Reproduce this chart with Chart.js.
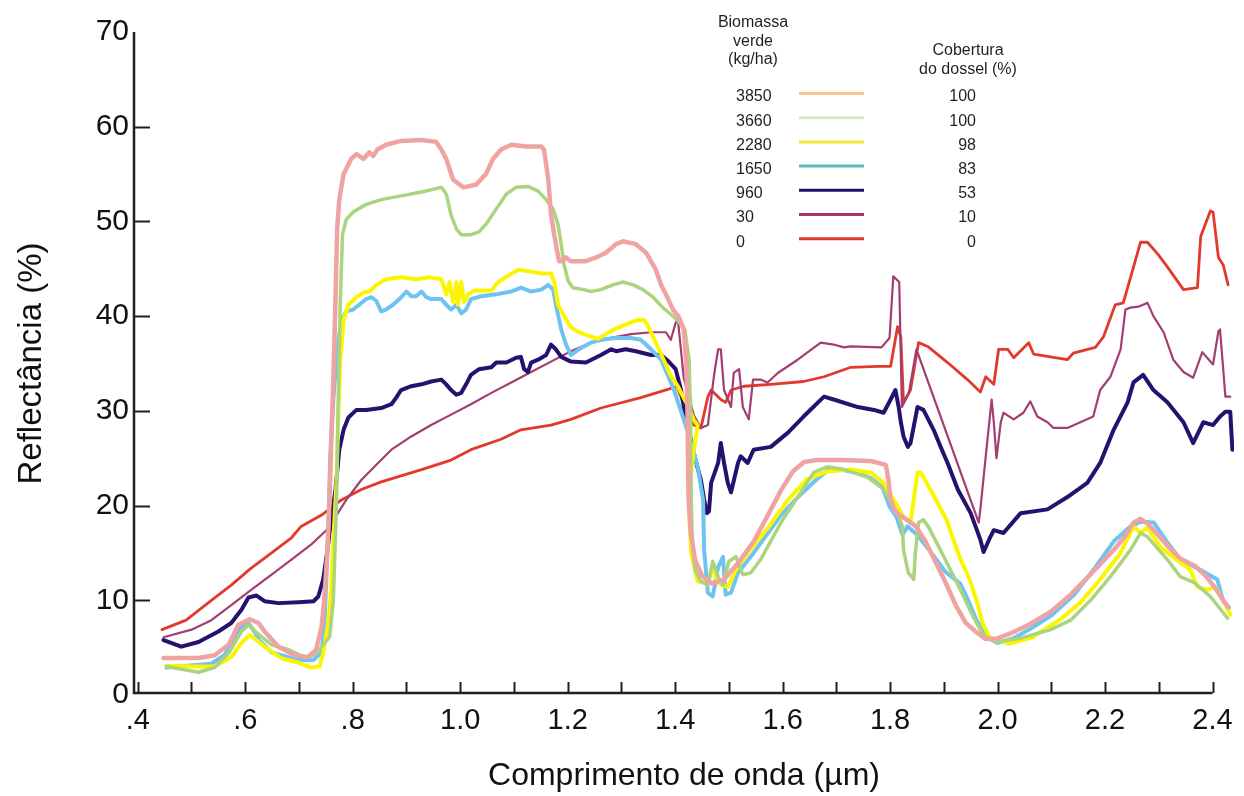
<!DOCTYPE html>
<html><head><meta charset="utf-8">
<script src="https://cdn.jsdelivr.net/npm/chart.js@4/dist/chart.umd.min.js"></script>
<style>html,body{margin:0;padding:0;background:#fff}#wrap{width:1244px;height:796px}</style>
</head><body><div id="wrap"><canvas id="c" width="1244" height="796"></canvas></div>
<script>
// ---- data (wavelength µm, reflectance %) ----
const biomassLabels = ['3850','3660','2280','1650','960','30','0'];
const coverLabels   = ['100','100','98','83','53','10','0'];
const xTickValues = [0.4,0.6,0.8,1.0,1.2,1.4,1.6,1.8,2.0,2.2,2.4];
const xTickLabels = ['.4','.6','.8','1.0','1.2','1.4','1.6','1.8','2.0','2.2','2.4'];
const xMinorTicks = [0.4,0.5,0.6,0.7,0.8,0.9,1.0,1.1,1.2,1.3,1.4,1.5,1.6,1.7,1.8,1.9,2.0,2.1,2.2,2.3,2.4];
const yTickValues = [0,10,20,30,40,50,60,70];
const yTickLabels = ['0','10','20','30','40','50','60','70'];

const s3850 = [[0.448,3.9],[0.513,3.9],[0.543,4.2],[0.569,5.3],[0.587,7.4],[0.608,8.0],[0.625,7.6],[0.636,6.7],[0.662,5.1],[0.691,4.2],[0.717,4.0],[0.732,4.8],[0.742,7.2],[0.747,10],[0.753,15.3],[0.757,20.6],[0.76,27],[0.764,33.3],[0.768,41.8],[0.771,49.2],[0.775,52.3],[0.783,55],[0.797,56.6],[0.807,57.1],[0.82,56.6],[0.831,57.3],[0.838,56.9],[0.846,57.6],[0.862,58.1],[0.89,58.5],[0.928,58.6],[0.955,58.4],[0.965,57.6],[0.974,56.6],[0.987,54.4],[1.006,53.6],[1.03,53.9],[1.048,55],[1.061,56.6],[1.076,57.6],[1.095,58.1],[1.123,57.9],[1.151,57.9],[1.156,57.6],[1.164,54.4],[1.169,50.7],[1.175,48.6],[1.18,47.0],[1.184,45.8],[1.19,45.8],[1.197,46.2],[1.206,45.8],[1.234,45.8],[1.253,46.2],[1.271,46.7],[1.29,47.6],[1.303,47.9],[1.327,47.6],[1.346,46.7],[1.364,44.9],[1.374,43.3],[1.387,41.8],[1.396,40.7],[1.407,39.9],[1.416,38.6],[1.421,35],[1.423,30],[1.424,25],[1.425,20.6],[1.429,17.2],[1.437,14.3],[1.45,12.6],[1.467,11.8],[1.489,12.1],[1.517,13.9],[1.546,16.2],[1.57,18.7],[1.597,21.6],[1.619,23.6],[1.64,24.6],[1.662,24.8],[1.708,24.8],[1.764,24.7],[1.792,24.3],[1.797,22.7],[1.801,20.6],[1.81,19.3],[1.829,18.6],[1.848,17.8],[1.866,16.2],[1.885,14.0],[1.903,11.9],[1.922,9.5],[1.941,7.6],[1.959,6.7],[1.978,5.9],[1.996,5.9],[2.024,6.5],[2.061,7.5],[2.099,8.8],[2.136,10.6],[2.164,12.2],[2.191,13.8],[2.219,15.5],[2.238,16.8],[2.253,18.2],[2.266,18.6],[2.281,18.0],[2.303,16.6],[2.322,15.4],[2.34,14.4],[2.368,13.6],[2.387,12.6],[2.405,11.3],[2.42,10.0],[2.429,9.3]];

const s3660 = [[0.4535,3.0],[0.513,2.4],[0.543,2.9],[0.569,4.4],[0.593,6.7],[0.606,7.4],[0.621,6.6],[0.649,5.3],[0.68,4.8],[0.71,4.0],[0.729,4.2],[0.742,5.1],[0.757,6.1],[0.764,10],[0.77,20.6],[0.773,31.2],[0.777,41.8],[0.781,48.6],[0.788,50.2],[0.801,51],[0.825,51.8],[0.853,52.3],[0.89,52.7],[0.928,53.1],[0.965,53.6],[0.974,52.9],[0.983,50.7],[0.993,49.2],[1.002,48.6],[1.02,48.6],[1.035,48.9],[1.048,49.7],[1.067,51.3],[1.086,52.9],[1.104,53.6],[1.126,53.7],[1.145,53.2],[1.16,52.3],[1.173,51.3],[1.182,49.7],[1.188,47.6],[1.193,45.5],[1.201,43.7],[1.21,43.0],[1.23,42.8],[1.243,42.6],[1.262,42.8],[1.284,43.3],[1.303,43.6],[1.322,43.3],[1.34,42.8],[1.359,42.0],[1.377,40.9],[1.392,40.2],[1.407,39.4],[1.418,38.6],[1.426,35.4],[1.428,31.2],[1.429,25.9],[1.43,20.6],[1.432,16.4],[1.437,13.2],[1.448,12.0],[1.461,11.6],[1.47,14.1],[1.48,12.5],[1.489,11.6],[1.5,14.1],[1.513,14.6],[1.526,12.7],[1.541,12.9],[1.559,14.3],[1.597,18.2],[1.634,21.4],[1.658,23.5],[1.684,24.1],[1.714,23.8],[1.758,23.0],[1.788,21.7],[1.814,19.2],[1.823,17.8],[1.825,15.3],[1.834,12.9],[1.844,12.2],[1.847,15.0],[1.853,18.2],[1.862,18.5],[1.871,17.8],[1.9,14.6],[1.931,11.1],[1.955,8.2],[1.974,6.3],[1.998,5.6],[2.043,6.0],[2.099,6.9],[2.136,7.9],[2.173,10.0],[2.21,12.5],[2.247,15.3],[2.266,17.1],[2.279,16.7],[2.316,14.3],[2.34,12.5],[2.365,11.9],[2.396,10.4],[2.428,8.1]];

const s2280 = [[0.4535,3.1],[0.513,3.0],[0.543,3.0],[0.574,4.0],[0.593,5.5],[0.608,6.3],[0.617,6.0],[0.636,5.1],[0.667,3.9],[0.699,3.4],[0.723,2.9],[0.738,3.0],[0.745,4.4],[0.755,7.9],[0.76,11.1],[0.764,16.4],[0.77,22.7],[0.773,29.1],[0.777,35.4],[0.783,39.6],[0.792,41.2],[0.807,42.0],[0.82,42.5],[0.831,42.6],[0.844,43.3],[0.862,43.9],[0.89,44.1],[0.918,43.9],[0.942,44.1],[0.965,43.9],[0.974,42.3],[0.98,43.6],[0.987,41.5],[0.993,43.6],[0.996,41.2],[1.002,43.6],[1.007,41.5],[1.015,42.3],[1.026,42.7],[1.058,42.7],[1.071,43.6],[1.09,44.3],[1.108,44.9],[1.132,44.7],[1.151,44.5],[1.169,44.5],[1.175,43.6],[1.182,41.2],[1.193,40.1],[1.206,38.8],[1.225,38.2],[1.256,37.6],[1.268,38.0],[1.286,38.6],[1.312,39.2],[1.331,39.6],[1.342,39.6],[1.351,38.8],[1.364,37.2],[1.377,35.6],[1.392,33.7],[1.405,32.6],[1.424,30.5],[1.435,29.0],[1.442,28.5],[1.435,26.0],[1.427,22.0],[1.427,18.0],[1.43,14.9],[1.442,12.0],[1.461,11.8],[1.47,13.5],[1.48,11.8],[1.498,11.4],[1.513,13.2],[1.535,15.0],[1.572,17.6],[1.61,20.6],[1.645,22.8],[1.684,23.6],[1.727,23.8],[1.764,23.5],[1.788,22.4],[1.814,19.9],[1.825,18.8],[1.838,18.2],[1.851,23.5],[1.857,23.5],[1.875,21.7],[1.905,18.5],[1.929,14.6],[1.948,12.2],[1.961,10.0],[1.972,7.6],[1.985,6.1],[2.022,5.4],[2.065,6.1],[2.115,7.9],[2.153,9.7],[2.191,12.2],[2.229,15.0],[2.253,17.8],[2.266,17.1],[2.279,17.7],[2.303,15.6],[2.34,14.0],[2.359,13.2],[2.372,11.4],[2.39,11.1],[2.405,11.4],[2.42,10.0],[2.433,8.5]];

const s1650 = [[0.4535,2.9],[0.537,3.3],[0.561,4.2],[0.58,5.8],[0.593,7.2],[0.606,7.6],[0.617,6.7],[0.626,5.8],[0.649,4.5],[0.68,4.0],[0.704,3.7],[0.727,3.7],[0.742,4.5],[0.747,7.2],[0.751,12.2],[0.755,18.5],[0.758,24.8],[0.764,31.2],[0.771,36.5],[0.779,39.6],[0.788,40.5],[0.801,40.7],[0.812,41.2],[0.825,41.8],[0.835,42.0],[0.844,41.6],[0.853,40.5],[0.862,40.7],[0.875,41.2],[0.887,41.8],[0.9,42.6],[0.909,42.1],[0.918,42.1],[0.928,42.6],[0.937,42.0],[0.946,41.8],[0.965,41.8],[0.974,41.2],[0.983,40.7],[0.993,41.2],[1.002,40.3],[1.011,40.7],[1.02,41.8],[1.039,42.1],[1.067,42.3],[1.095,42.6],[1.113,43.0],[1.132,42.6],[1.151,42.8],[1.164,43.3],[1.173,42.8],[1.18,40.7],[1.188,38.6],[1.197,37.0],[1.206,35.9],[1.221,36.5],[1.243,37.2],[1.262,37.5],[1.29,37.7],[1.318,37.7],[1.336,37.5],[1.355,36.5],[1.374,35.4],[1.398,32.2],[1.424,27.7],[1.442,24.1],[1.452,20.6],[1.454,15.3],[1.461,10.8],[1.47,10.4],[1.48,13.5],[1.489,14.6],[1.494,10.6],[1.504,10.8],[1.517,12.9],[1.546,15.0],[1.597,19.0],[1.634,21.2],[1.662,22.7],[1.686,23.8],[1.708,23.8],[1.736,23.5],[1.764,22.9],[1.786,21.9],[1.799,19.9],[1.812,18.8],[1.823,16.9],[1.832,17.8],[1.851,16.9],[1.877,15.0],[1.903,13.0],[1.93,11.8],[1.942,10.4],[1.961,7.9],[1.98,6.1],[2.0,5.5],[2.03,6.0],[2.061,7.0],[2.1,8.4],[2.143,10.6],[2.182,13.5],[2.216,16.2],[2.247,17.8],[2.266,18.3],[2.291,18.2],[2.316,16.1],[2.34,14.3],[2.378,13.2],[2.409,12.2],[2.42,9.9],[2.431,9.2]];

const s960 = [[0.448,5.8],[0.481,5.1],[0.513,5.6],[0.55,6.7],[0.574,7.6],[0.593,9.0],[0.606,10.3],[0.621,10.5],[0.636,9.9],[0.662,9.7],[0.699,9.8],[0.727,9.9],[0.736,10.4],[0.745,12.2],[0.753,15.3],[0.76,18.5],[0.768,21.7],[0.775,25.9],[0.783,28.0],[0.792,29.3],[0.807,30.1],[0.825,30.1],[0.853,30.3],[0.872,30.7],[0.881,31.4],[0.89,32.2],[0.909,32.6],[0.928,32.8],[0.946,33.1],[0.965,33.3],[0.974,32.8],[0.983,32.2],[0.993,31.7],[1.002,31.9],[1.011,32.8],[1.02,33.8],[1.035,34.4],[1.058,34.6],[1.067,35.1],[1.086,35.1],[1.104,35.6],[1.113,35.7],[1.119,34.4],[1.126,34.1],[1.132,35.1],[1.145,35.4],[1.16,35.9],[1.169,37.0],[1.178,36.5],[1.188,35.7],[1.206,35.2],[1.234,35.1],[1.262,35.9],[1.281,36.5],[1.29,36.3],[1.308,36.5],[1.327,36.3],[1.355,35.9],[1.374,35.9],[1.388,35.2],[1.401,34.4],[1.411,32.2],[1.42,29.1],[1.429,27.0],[1.438,24.8],[1.448,22.7],[1.454,20.6],[1.459,19.2],[1.463,19.4],[1.467,22.4],[1.48,24.5],[1.485,26.6],[1.491,24.5],[1.498,22.4],[1.504,21.4],[1.517,24.5],[1.522,25.2],[1.535,24.5],[1.546,25.9],[1.578,26.2],[1.61,27.7],[1.639,29.4],[1.677,31.5],[1.695,31.2],[1.74,30.4],[1.77,30.1],[1.788,29.8],[1.801,31.2],[1.81,32.2],[1.816,30.4],[1.82,28.8],[1.825,27.3],[1.833,26.2],[1.838,26.6],[1.851,30.4],[1.862,30.1],[1.881,28.0],[1.894,26.2],[1.907,24.5],[1.926,21.7],[1.95,19.2],[1.968,16.4],[1.974,15.1],[1.985,16.5],[1.993,17.4],[2.011,17.1],[2.043,19.2],[2.093,19.6],[2.13,20.9],[2.167,22.4],[2.191,24.5],[2.216,28.0],[2.242,30.9],[2.253,33.0],[2.271,33.8],[2.29,32.2],[2.316,30.9],[2.346,28.8],[2.364,26.6],[2.383,28.8],[2.401,28.5],[2.414,29.4],[2.424,29.9],[2.433,29.9],[2.437,25.9]];

const s30 = [[0.448,6.1],[0.5,6.9],[0.537,7.9],[0.574,9.5],[0.611,11.1],[0.649,12.7],[0.686,14.3],[0.723,15.9],[0.751,17.4],[0.77,19.0],[0.788,20.6],[0.816,22.7],[0.844,24.3],[0.872,25.9],[0.909,27.3],[0.946,28.5],[0.983,29.6],[1.02,30.7],[1.058,31.9],[1.095,33.0],[1.132,34.1],[1.169,35.2],[1.206,36.3],[1.243,37.2],[1.281,37.7],[1.318,38.1],[1.355,38.3],[1.383,38.3],[1.392,37.5],[1.4,39.1],[1.405,39.9],[1.407,38.6],[1.416,33.5],[1.435,29.5],[1.448,28.2],[1.461,28.5],[1.472,33.6],[1.48,36.5],[1.485,36.5],[1.491,32.2],[1.504,30.4],[1.509,34.0],[1.519,34.4],[1.526,30.4],[1.537,29.1],[1.545,33.3],[1.559,33.3],[1.572,33.0],[1.591,34.0],[1.628,35.4],[1.671,37.2],[1.695,37.0],[1.714,36.7],[1.727,36.8],[1.784,36.7],[1.799,37.7],[1.806,44.2],[1.817,43.6],[1.822,30.4],[1.835,31.9],[1.849,36.5],[1.965,18.2],[1.968,19.6],[1.978,25.2],[1.989,31.2],[1.993,28.8],[1.998,25.0],[2.006,28.8],[2.011,29.8],[2.03,29.1],[2.048,29.8],[2.061,31.0],[2.074,29.4],[2.093,28.8],[2.104,28.2],[2.13,28.2],[2.154,28.8],[2.178,29.4],[2.191,32.2],[2.21,33.6],[2.229,36.5],[2.238,40.7],[2.247,40.9],[2.262,41.0],[2.279,41.4],[2.29,40.0],[2.309,38.3],[2.327,35.4],[2.346,34.1],[2.364,33.5],[2.381,36.2],[2.39,35.6],[2.401,34.9],[2.411,38.4],[2.414,38.6],[2.424,31.5],[2.433,31.5]];

const s0 = [[0.445,6.9],[0.49,7.9],[0.537,10.0],[0.574,11.6],[0.611,13.4],[0.649,15.0],[0.686,16.6],[0.704,17.8],[0.742,19.0],[0.779,20.6],[0.816,21.7],[0.853,22.5],[0.928,23.8],[0.983,24.8],[1.02,25.9],[1.076,27.0],[1.113,28.0],[1.169,28.5],[1.206,29.1],[1.262,30.3],[1.336,31.4],[1.388,32.3],[1.403,32.6],[1.418,30.4],[1.435,28.5],[1.448,28.2],[1.461,31.5],[1.467,32.2],[1.485,31.2],[1.494,30.9],[1.504,32.2],[1.528,32.6],[1.578,32.8],[1.639,33.1],[1.677,33.6],[1.727,34.6],[1.777,34.7],[1.801,34.7],[1.814,38.9],[1.82,37.8],[1.825,30.9],[1.838,32.2],[1.853,37.2],[1.87,36.8],[1.907,35.1],[1.944,33.3],[1.968,32.0],[1.978,33.6],[1.993,32.8],[2.002,36.5],[2.019,36.5],[2.03,35.6],[2.058,37.2],[2.067,36.0],[2.13,35.4],[2.141,36.1],[2.182,36.7],[2.197,37.8],[2.219,41.2],[2.234,41.4],[2.266,47.8],[2.279,47.8],[2.299,46.5],[2.316,45.2],[2.346,42.8],[2.372,43.0],[2.378,48.4],[2.396,51.1],[2.401,51.0],[2.411,46.2],[2.42,45.4],[2.429,43.3]];

// ---- styles ----
const allSeries   = [s3850, s3660, s2280, s1650, s960, s30, s0];
const lineColors  = ['#f0a3a3','#abd47f','#fbf500','#6ec3f0','#26126e','#a33d72','#e3392d'];
const lineWidths  = [4.5, 3.5, 4, 4, 4, 2.2, 2.8];
const legendColors= ['#f5c48e','#d3eac3','#efe93a','#5cbcbb','#22106c','#a0386c','#e0392e'];

const FONT = '"Liberation Sans", Arial, Helvetica, sans-serif';
const INK = '#231f20';

const datasets = allSeries.map((s, i) => ({
  label: biomassLabels[i],
  data: s.map(p => ({x: p[0], y: p[1]})),
  borderColor: lineColors[i],
  borderWidth: lineWidths[i],
  pointRadius: 0,
  tension: 0,
  fill: false,
  borderJoinStyle: 'round',
  borderCapStyle: 'round'
}));

const axesPlugin = {
  id: 'axesPlugin',
  afterDraw(chart) {
    const ctx = chart.ctx, xs = chart.scales.x, ys = chart.scales.y;
    const x0 = xs.getPixelForValue(xs.min);
    const xEnd = xs.getPixelForValue(2.4);
    const yBase = ys.getPixelForValue(0) - 2;
    const yTop = ys.getPixelForValue(70);
    ctx.save();
    ctx.strokeStyle = INK;
    ctx.lineWidth = 2.5;
    ctx.beginPath();
    ctx.moveTo(x0, yTop); ctx.lineTo(x0, yBase);
    ctx.lineTo(xEnd, yBase);
    ctx.stroke();
    ctx.lineWidth = 2;
    ctx.beginPath();
    xMinorTicks.forEach(v => {
      const px = Math.round(xs.getPixelForValue(v)) + 0.5;
      ctx.moveTo(px, yBase); ctx.lineTo(px, yBase - 11);
    });
    yTickValues.forEach(v => {
      if (v === 0 || v === 70) return;
      const py = Math.round(ys.getPixelForValue(v)) + 0.5;
      ctx.moveTo(x0, py); ctx.lineTo(x0 + 16, py);
    });
    ctx.stroke();
    ctx.restore();
  }
};

const legendPlugin = {
  id: 'legendPlugin',
  afterDraw(chart) {
    const ctx = chart.ctx;
    ctx.save();
    ctx.fillStyle = INK;
    ctx.font = '16px ' + FONT;
    ctx.textBaseline = 'middle';
    ctx.textAlign = 'center';
    ['Biomassa','verde','(kg/ha)'].forEach((t, i) => ctx.fillText(t, 753, 23 + i * 18.5));
    ['Cobertura','do dossel (%)'].forEach((t, i) => ctx.fillText(t, 968, 51 + i * 18.5));
    biomassLabels.forEach((lab, i) => {
      const y = 97 + i * 24.2;
      ctx.textAlign = 'left';
      ctx.fillStyle = INK;
      ctx.fillText(lab, 736, y);
      ctx.textAlign = 'right';
      ctx.fillText(coverLabels[i], 976, y);
      ctx.strokeStyle = legendColors[i];
      ctx.lineWidth = 3;
      ctx.beginPath();
      ctx.moveTo(799, y - 3.5); ctx.lineTo(864, y - 3.5);
      ctx.stroke();
    });
    ctx.restore();
  }
};

new Chart(document.getElementById('c'), {
  type: 'line',
  data: { datasets },
  options: {
    responsive: false,
    devicePixelRatio: 1,
    animation: false,
    layout: { padding: { left: 0, right: 10, top: 32, bottom: 0 } },
    plugins: { legend: { display: false }, tooltip: { enabled: false } },
    scales: {
      x: {
        type: 'linear', min: 0.393, max: 2.44,
        afterBuildTicks: s => { s.ticks = xTickValues.map(v => ({ value: v })); },
        afterFit: s => { s.height = 101; },
        ticks: { callback: (v, i) => xTickLabels[i], font: { family: FONT, size: 29 }, color: '#111', padding: 9, maxRotation: 0, autoSkip: false },
        grid: { display: false, drawTicks: false },
        border: { display: false },
        title: { display: true, text: 'Comprimento de onda (µm)', font: { family: FONT, size: 32 }, color: '#111', padding: { top: 0, bottom: 1 } }
      },
      y: {
        type: 'linear', min: 0, max: 70,
        afterBuildTicks: s => { s.ticks = yTickValues.map(v => ({ value: v })); },
        afterFit: s => { s.width = 134; },
        ticks: { callback: (v, i) => yTickLabels[i], font: { family: FONT, size: 30 }, color: '#111', padding: 5 },
        grid: { display: false, drawTicks: false },
        border: { display: false },
        title: { display: true, text: 'Reflectância (%)', font: { family: FONT, size: 33 }, color: '#111', padding: { top: 12, bottom: 0 } }
      }
    }
  },
  plugins: [axesPlugin, legendPlugin]
});
</script>
</body></html>
